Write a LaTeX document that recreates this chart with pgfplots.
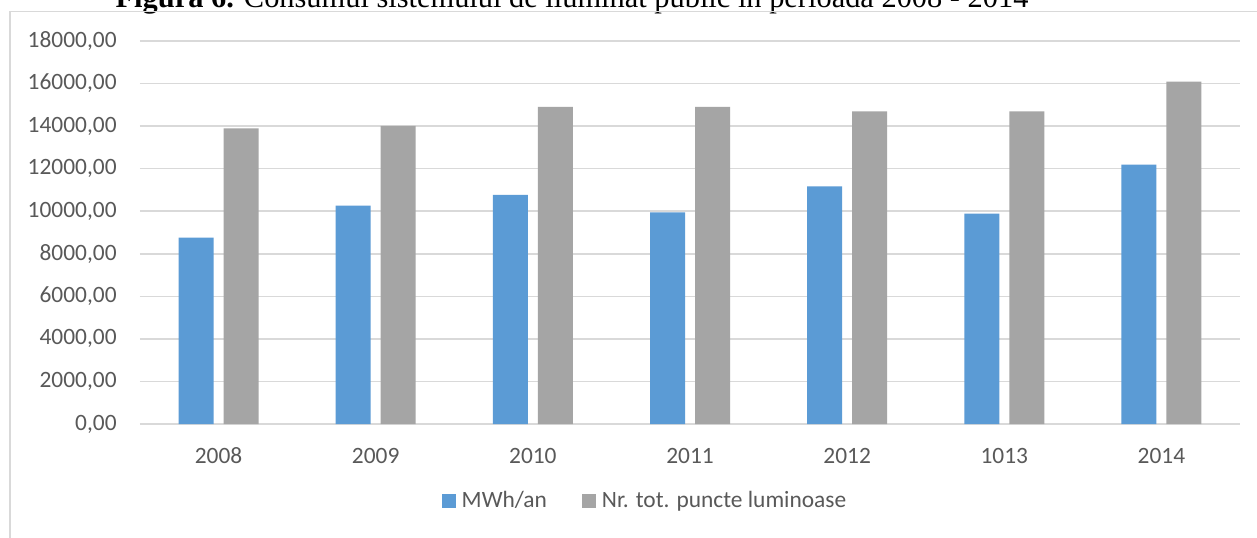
\documentclass[border=0pt]{standalone}
\usepackage{pgfplots}
\pgfplotsset{compat=1.18}
\usepackage{fontspec}
\setmainfont{Carlito}
\newfontfamily\titlefont{Liberation Serif}
\definecolor{cblue}{HTML}{5B9BD5}
\definecolor{cgrey}{HTML}{A5A5A5}
\definecolor{cgrid}{HTML}{D9D9D9}
\definecolor{ctext}{HTML}{595959}
\begin{document}
\begin{tikzpicture}
\useasboundingbox (0,0) rectangle (628.5pt,268.5pt);
\clip (0,0) rectangle (628.5pt,268.5pt);
\fill[white] (0,0) rectangle (628.5pt,268.5pt);
% title (partly cut off, as in the reference)
\node[anchor=base, inner sep=0pt, font=\titlefont\fontsize{15.2}{17}\selectfont] at (286pt,264.8pt)
  {\textbf{Figura 6.} Consumul sistemului de iluminat public în perioada 2008 - 2014};
% chart frame
\draw[cgrid, line width=0.6pt] (5pt,-2pt) -- (5pt,262.6pt) -- (640pt,262.6pt);
\begin{axis}[
  at={(70pt,56.5pt)}, anchor=south west,
  scale only axis, width=550pt, height=191.5pt,
  ybar=5pt, bar width=17.5pt,
  xmin=-0.5, xmax=6.5, ymin=0, ymax=18000,
  xtick=data,
  xticklabels={2008,2009,2010,2011,2012,1013,2014},
  ytick={0,2000,...,18000},
  scaled y ticks=false,
  ymajorgrids, grid style={cgrid, line width=0.75pt},
  axis line style={draw=none},
  tick style={draw=none},
  major tick length=0pt,
  tick label style={font=\fontsize{11.7}{14}\selectfont, text=ctext, inner sep=0pt},
  yticklabel style={anchor=east, xshift=-11.5pt,
    /pgf/number format/fixed, /pgf/number format/fixed zerofill,
    /pgf/number format/precision=2, /pgf/number format/use comma,
    /pgf/number format/1000 sep={}, /pgf/number format/assume math mode=true},
  xticklabel style={anchor=north, yshift=-11.8pt},
  legend columns=2,
  legend style={draw=none, fill=none,
    inner sep=0pt, font=\fontsize{11.7}{14}\selectfont, text=ctext,
    column sep=3pt,
    /tikz/every even column/.append style={column sep=17.5pt},
    nodes={inner sep=0pt, anchor=base west}},
  legend cell align=left,
  legend image code/.code={\fill[#1,draw=none] (0pt,-0.2pt) rectangle (7pt,6.8pt);},
  every axis legend/.append style={at={(322pt-70pt,18pt-56.5pt)}, anchor=center},
]
\addplot[fill=cblue, draw=none] coordinates {(0,8760) (1,10265) (2,10767) (3,9951) (4,11170) (5,9890) (6,12188)};
\addplot[fill=cgrey, draw=none] coordinates {(0,13890) (1,14016) (2,14907) (3,14907) (4,14688) (5,14688) (6,16094)};
\legend{MWh/an, Nr. tot. puncte luminoase}
\end{axis}
\end{tikzpicture}
\end{document}
